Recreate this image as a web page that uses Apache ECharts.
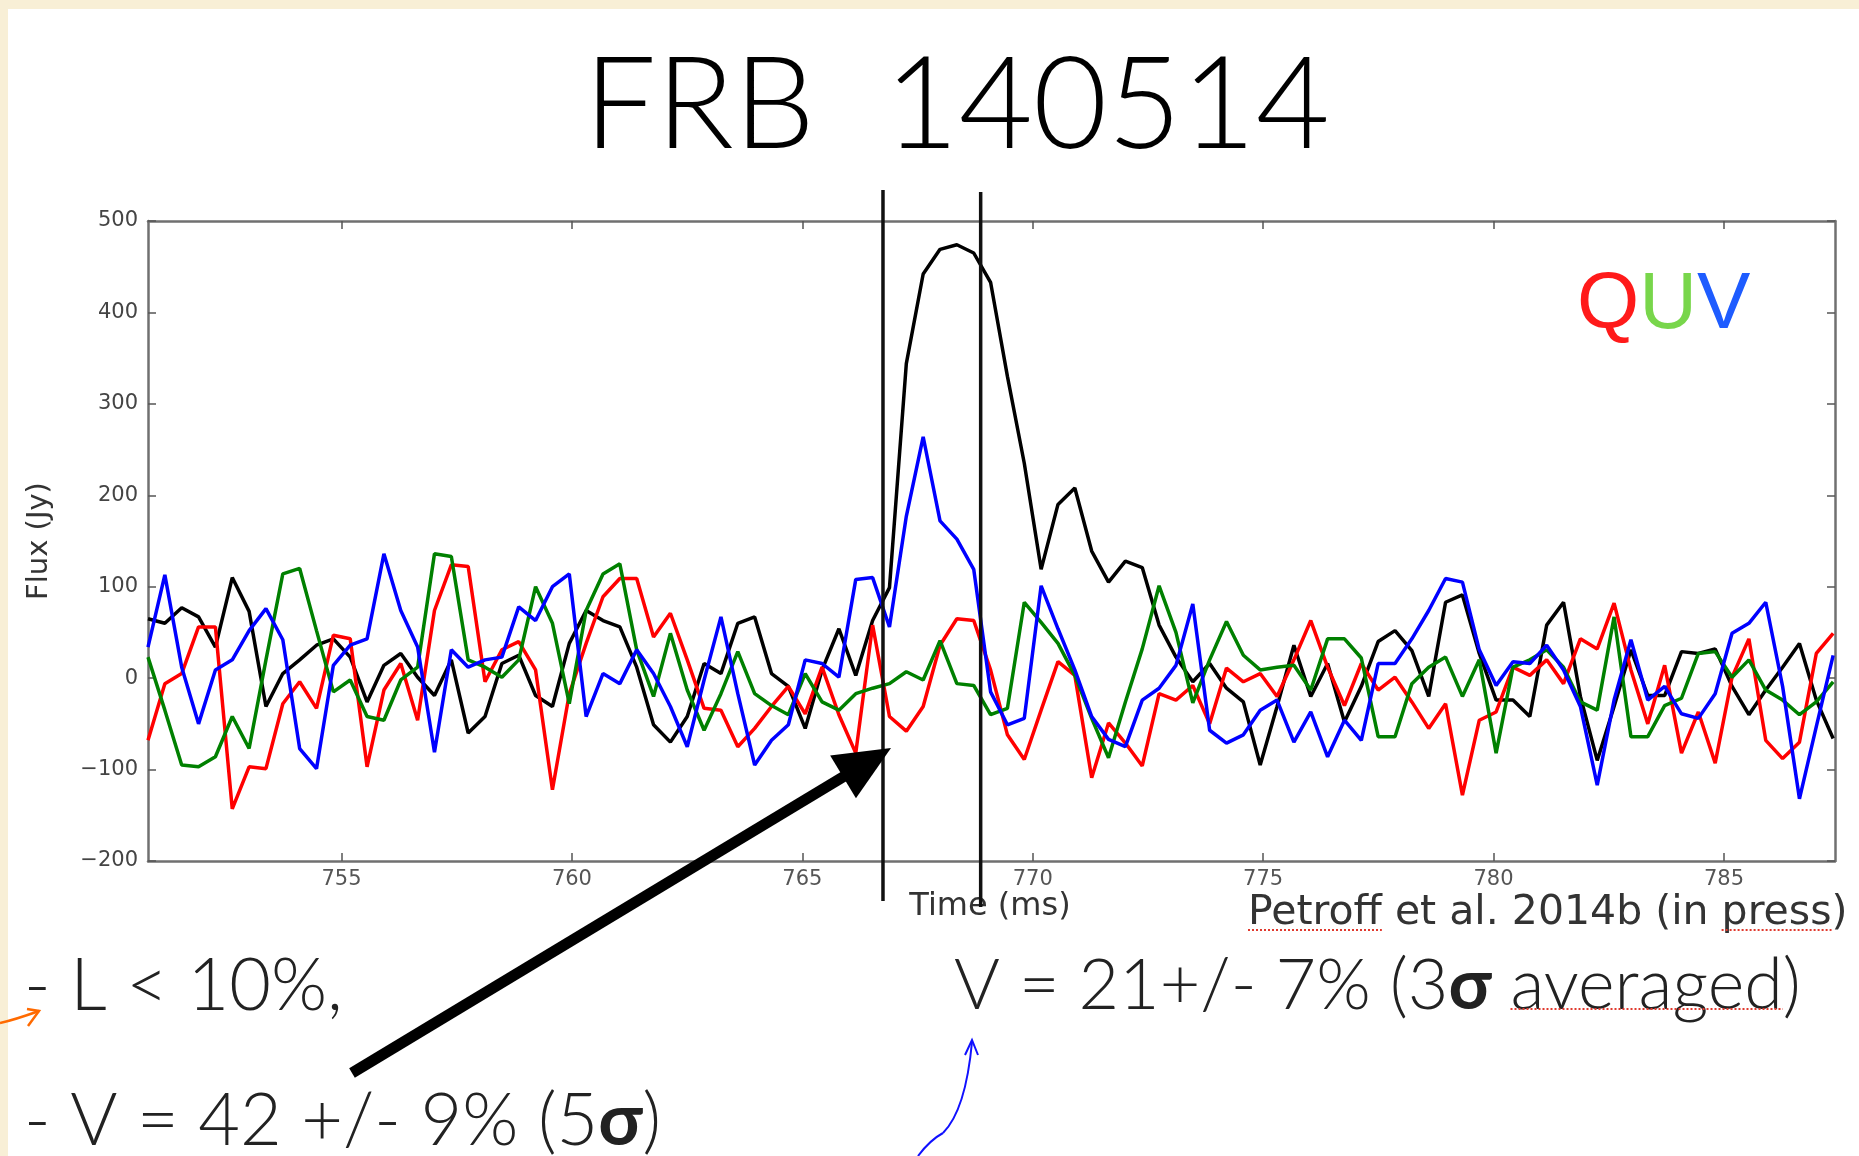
<!DOCTYPE html>
<html><head><meta charset="utf-8">
<script src="https://cdn.jsdelivr.net/npm/echarts@6/dist/echarts.min.js"></script>
<style>
html,body{margin:0;padding:0;width:1859px;height:1156px;background:#f8efd6;overflow:hidden}
#paper{position:absolute;left:8px;top:9px;right:0;bottom:0;background:#ffffff}
#chart{position:absolute;left:0;top:0;width:1859px;height:1156px}
</style></head><body><div id="paper"></div><div id="chart"></div>
<script>
// ---- sampling grid (ms) ----
const t0 = 750.8, dt = 0.3657;
// ---- Stokes I (black) ----
const I_flux = [65,60,77,67,34,110,73,-31,5,20,36,43,23,-26,14,27,1,-19,20,-60,
  -42,16,25,-19,-31,38,74,63,56,12,-51,-70,-42,16,5,60,67,5,-9,-55,
  9,54,3,63,99,344,442,469,474,465,433,330,235,119,190,208,139,105,128,121,
  58,23,-4,16,-11,-26,-95,-31,36,-20,16,-48,-9,40,52,30,-20,83,91,27,
  -24,-24,-42,58,83,-20,-90,-31,31,-19,-19,29,27,32,-9,-40,-13,12,38,-24,-66];
// ---- Stokes Q (red) ----
const Q_flux = [-68,-6,5,56,56,-143,-97,-99,-28,-4,-33,47,43,-97,-13,16,-46,74,124,122,
  -4,31,40,9,-122,-17,38,89,109,109,45,71,20,-33,-35,-75,-55,-31,-9,-39,
  12,-40,-82,58,-42,-58,-31,36,65,63,9,-62,-89,-35,18,3,-109,-49,-71,-96,
  -17,-24,-8,-50,11,-4,5,-20,20,63,12,-30,16,-13,1,-26,-55,-28,-128,-46,
  -37,12,3,20,-6,43,32,82,9,-50,14,-82,-37,-93,1,43,-68,-88,-70,27,49];
// ---- Stokes U (green) ----
const U_flux = [23,-35,-95,-97,-86,-42,-77,20,114,120,52,-15,-2,-42,-46,-2,12,136,133,20,
  12,1,20,100,60,-28,74,114,125,31,-20,49,-13,-57,-17,29,-17,-30,-40,5,
  -26,-35,-17,-11,-6,7,-2,41,-6,-8,-40,-33,83,61,38,3,-44,-87,-26,32,
  101,50,-27,20,62,25,9,12,14,-13,43,43,22,-64,-64,-6,12,23,-20,20,
  -82,12,20,31,12,-26,-35,67,-64,-64,-30,-22,27,29,1,20,-13,-24,-40,-26,-4];
// ---- Stokes V (blue) ----
const V_flux = [34,113,12,-50,9,20,52,76,42,-77,-99,14,36,43,136,74,34,-81,31,12,
  20,23,78,63,100,114,-42,5,-6,31,5,-31,-75,-2,67,-17,-95,-68,-51,20,
  16,1,108,110,56,177,264,172,152,119,-15,-51,-44,101,54,9,-42,-67,-75,-24,
  -11,14,81,-57,-71,-62,-35,-24,-70,-37,-86,-46,-68,16,16,43,74,109,105,31,
  -8,18,16,36,9,-31,-117,-24,42,-24,-9,-39,-44,-17,49,60,83,-9,-132,-53,25];
const xTicks = [755,760,765,770,775,780,785];
const windowTimes = [766.75, 768.87];
const xMin = 750.8, xMax = 787.41, yMin = -200, yMax = 500;

const times = I_flux.map((_, i) => +(t0 + i * dt).toFixed(4));
const pair = arr => arr.map((v, i) => [times[i], v]);

const chart = echarts.init(document.getElementById('chart'), null, {renderer:'canvas'});
const axisLineStyle = {color:'#707070', width:2.5};
const tickStyle = {color:'#555', width:1.5};
const lineSeries = (name, data, color) => ({
  name, type:'line', data: pair(data), showSymbol:false, symbol:'none',
  lineStyle:{color, width:3.5}, itemStyle:{color}, z:2, silent:true
});
const option = {
  animation:false,
  grid:{left:148, right:24, top:221, bottom:295},
  xAxis:[
    {type:'value', min:xMin, max:xMax, position:'bottom',
     axisLine:{show:true, onZero:false, lineStyle:axisLineStyle},
     axisTick:{show:true, inside:true, length:8, customValues:xTicks, lineStyle:tickStyle},
     axisLabel:{customValues:xTicks, color:'#555', fontFamily:'DejaVu Sans', fontSize:21, margin:8},
     splitLine:{show:false}},
    {type:'value', min:xMin, max:xMax, position:'top',
     axisLine:{show:true, onZero:false, lineStyle:axisLineStyle},
     axisTick:{show:true, inside:true, length:8, customValues:xTicks, lineStyle:tickStyle},
     axisLabel:{show:false}, splitLine:{show:false}}
  ],
  yAxis:[
    {type:'value', min:yMin, max:yMax, interval:100, position:'left',
     axisLine:{show:true, onZero:false, lineStyle:axisLineStyle},
     axisTick:{show:true, inside:true, length:8, lineStyle:tickStyle},
     axisLabel:{color:'#444', fontFamily:'DejaVu Sans', fontSize:21, margin:10,
       formatter: v => String(v).replace('-', '\u2212')},
     splitLine:{show:false}},
    {type:'value', min:yMin, max:yMax, interval:100, position:'right',
     axisLine:{show:true, onZero:false, lineStyle:axisLineStyle},
     axisTick:{show:true, inside:true, length:8, lineStyle:tickStyle},
     axisLabel:{show:false}, splitLine:{show:false}}
  ],
  series:[
    lineSeries('I', I_flux, '#000000'),
    lineSeries('Q', Q_flux, '#ff0000'),
    lineSeries('U', U_flux, '#008000'),
    lineSeries('V', V_flux, '#0000ff')
  ]
};
chart.setOption(option);

// ---- annotations ----
const gill = 'Lato, "Open Sans", sans-serif';
const mctx = document.createElement('canvas').getContext('2d');
const measure = (txt, font) => { mctx.font = font; return mctx.measureText(txt).width; };

const g = [];
// title
g.push({type:'text', z:50, style:{text:'FRB  140514', x:957, y:107, fill:'#000',
  fontFamily:gill, fontWeight:300, fontSize:128, align:'center', verticalAlign:'middle'}});
// QUV legend
g.push({type:'text', z:50, style:{text:'{q|Q}{u|U}{v|V}', x:1577, y:306, align:'left', verticalAlign:'middle',
  fontFamily:'Liberation Sans', fontSize:80,
  rich:{q:{fill:'#ff1a1a', fontFamily:'Liberation Sans', fontSize:80},
        u:{fill:'#78d64b', fontFamily:'Liberation Sans', fontSize:80},
        v:{fill:'#1e5cff', fontFamily:'Liberation Sans', fontSize:80}}}});
// axis names
g.push({type:'text', z:50, x:39, y:541, rotation:Math.PI/2, style:{text:'Flux (Jy)', x:0, y:0,
  fill:'#333', fontFamily:'DejaVu Sans', fontSize:29, align:'center', verticalAlign:'middle'}});
g.push({type:'text', z:50, style:{text:'Time (ms)', x:990, y:907, fill:'#333',
  fontFamily:'DejaVu Sans', fontSize:32, align:'center', verticalAlign:'middle'}});
// citation
const citeSize = 41;
const citeFont = citeSize + 'px "DejaVu Sans"';
const citeX = 1248, citeY = 913;
g.push({type:'text', z:50, style:{text:'Petroff et al. 2014b (in press)', x:citeX, y:citeY, fill:'#333',
  fontFamily:'DejaVu Sans', fontSize:citeSize, align:'left', verticalAlign:'middle'}});
const dotted = (x1, x2, y) => ({type:'line', z:51, shape:{x1, y1:y, x2, y2:y},
  style:{stroke:'#e03a2f', lineWidth:2, lineDash:[2,2]}});
const wPet = measure('Petroff', citeFont);
const wPre = measure('Petroff et al. 2014b (in ', citeFont);
const wPress = measure('press', citeFont);
g.push(dotted(citeX, citeX + wPet, citeY + 17));
g.push(dotted(citeX + wPre, citeX + wPre + wPress, citeY + 17));
// bottom text
const bigSize = 72, rSize = 70;
const mkRich = sz => ({s:{fontWeight:'bold', fontFamily:gill, fontSize:sz, fill:'#222'},
              n:{fontWeight:300, fontFamily:gill, fontSize:sz, fill:'#222'}});
g.push({type:'text', z:50, style:{text:'- L < 10%,', x:24, y:987, fill:'#222',
  fontFamily:gill, fontWeight:300, fontSize:bigSize, align:'left', verticalAlign:'middle'}});
g.push({type:'text', z:50, style:{text:'{n|- V = 42 +/- 9% (5}{s|σ}{n|)}', x:24, y:1122, fill:'#222',
  fontFamily:gill, fontWeight:300, fontSize:bigSize, align:'left', verticalAlign:'middle', rich:mkRich(bigSize)}});
const rX = 954, rY = 986;
g.push({type:'text', z:50, style:{text:'{n|V = 21+/- 7% (3}{s|σ}{n| averaged)}', x:rX, y:rY, fill:'#222',
  fontFamily:gill, fontWeight:300, fontSize:rSize, align:'left', verticalAlign:'middle', rich:mkRich(rSize)}});
const lightFont = '300 ' + rSize + 'px ' + gill;
const boldFont = 'bold ' + rSize + 'px ' + gill;
const avX = rX + measure('V = 21+/- 7% (3', lightFont) + measure('σ', boldFont) + measure(' ', lightFont);
g.push(dotted(avX, avX + measure('averaged', lightFont), rY + 23));

// window lines (positions from the axis scale)
windowTimes.forEach((t, k) => {
  const px = chart.convertToPixel({xAxisIndex:0}, t);
  g.push({type:'line', z:60, shape:{x1:px, y1:k ? 192 : 190, x2:px, y2:k ? 907 : 901},
    style:{stroke:'#111', lineWidth:3.5}});
});
// big black arrow
(function(){
  const sx = 352, sy = 1073, tx = 891, ty = 748;
  const dx = tx - sx, dy = ty - sy, L = Math.hypot(dx, dy);
  const ux = dx / L, uy = dy / L, nx = -uy, ny = ux;
  const hl = 56, hw = 25;
  const bx = tx - ux * hl, by = ty - uy * hl;
  g.push({type:'line', z:61, shape:{x1:sx, y1:sy, x2:bx + ux*4, y2:by + uy*4},
    style:{stroke:'#000', lineWidth:11, lineCap:'butt'}});
  g.push({type:'polygon', z:61, shape:{points:[[tx,ty],[bx + nx*hw, by + ny*hw],[bx - nx*hw, by - ny*hw]]},
    style:{fill:'#000'}});
})();
// orange arrow (left edge)
g.push({type:'bezierCurve', z:62, shape:{x1:0, y1:1023, x2:39, y2:1011, cpx1:14, cpy1:1020},
  style:{stroke:'#ff6a00', lineWidth:2.5, fill:null}});
g.push({type:'polyline', z:62, shape:{points:[[27,1009],[39,1011],[28,1026]]},
  style:{stroke:'#ff6a00', lineWidth:2.5, fill:null}});
// blue hand-drawn arrow
g.push({type:'bezierCurve', z:62, shape:{x1:918, y1:1156, x2:943, y2:1133, cpx1:930, cpy1:1140},
  style:{stroke:'#1010ff', lineWidth:2, fill:null}});
g.push({type:'bezierCurve', z:62, shape:{x1:943, y1:1133, x2:972, y2:1042, cpx1:958, cpy1:1118, cpx2:968, cpy2:1085},
  style:{stroke:'#1010ff', lineWidth:2, fill:null}});
g.push({type:'polyline', z:62, shape:{points:[[965,1055],[972,1040],[978,1055]]},
  style:{stroke:'#1010ff', lineWidth:2, fill:null}});

chart.setOption({graphic:{elements:g}});
</script></body></html>
